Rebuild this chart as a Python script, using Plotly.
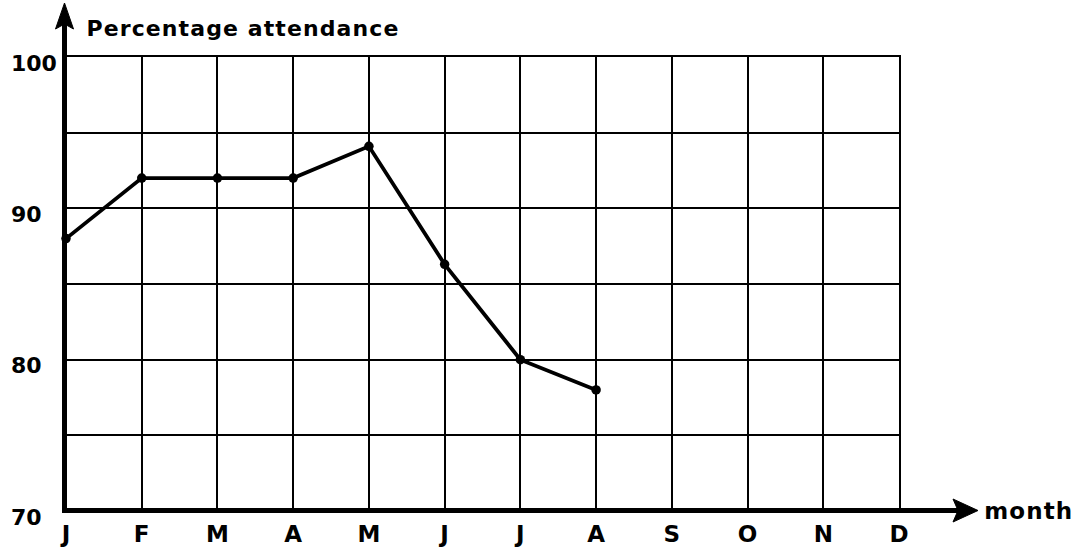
import plotly.graph_objects as go

# Monthly attendance (percent), January to August
months = ["J", "F", "M", "A", "M", "J", "J", "A", "S", "O", "N", "D"]
month_index = list(range(len(months)))
attendance = [88.0, 92.0, 92.0, 92.0, 94.1, 86.3, 80.0, 78.0]
y_ticks = [70, 80, 90, 100]

FONT = "DejaVu Sans, Liberation Sans, Arial, sans-serif"

# plot-area geometry in pixels, used to place the arrowed axes in paper units
W, H = 1081, 550
L, R, T, B = 66, 182, 57, 39
PW, PH = W - L - R, H - T - B


def px(x):
    return (x - L) / PW


def py(y):
    return (H - B - y) / PH


fig = go.Figure()
fig.add_trace(go.Scatter(
    x=month_index[:len(attendance)],
    y=attendance,
    mode="lines+markers",
    line=dict(color="black", width=3.8),
    marker=dict(color="black", size=9.5),
    cliponaxis=False,
    showlegend=False,
))

shapes = [
    # vertical axis with arrowhead
    dict(type="line", xref="paper", yref="paper", x0=px(64.5), x1=px(64.5),
         y0=py(513), y1=py(22), line=dict(color="black", width=5)),
    dict(type="path", xref="paper", yref="paper",
         path=f"M {px(64.5)},{py(3)} L {px(73.5)},{py(29)} L {px(64.5)},{py(24)} "
              f"L {px(55.5)},{py(29)} Z",
         fillcolor="black", line=dict(color="black", width=1)),
    # horizontal axis with arrowhead
    dict(type="line", xref="paper", yref="paper", x0=px(62), x1=px(962),
         y0=py(510.5), y1=py(510.5), line=dict(color="black", width=5)),
    dict(type="path", xref="paper", yref="paper",
         path=f"M {px(978)},{py(510.5)} L {px(953)},{py(499)} L {px(958)},{py(510.5)} "
              f"L {px(953)},{py(522)} Z",
         fillcolor="black", line=dict(color="black", width=1)),
]

annotations = [
    dict(text="Percentage attendance", xref="paper", yref="paper",
         x=px(243), y=py(28), xanchor="center", yanchor="middle", showarrow=False,
         font=dict(family=FONT, size=22, color="black", weight="bold")),
    dict(text="month", xref="paper", yref="paper",
         x=px(1029), y=py(511), xanchor="center", yanchor="middle", showarrow=False,
         font=dict(family=FONT, size=23, color="black", weight="bold")),
]
for v in y_ticks:
    annotations.append(dict(
        text=str(v), xref="paper", yref="y", x=px(9), y=v, yshift=-6,
        xanchor="left", yanchor="middle", showarrow=False,
        font=dict(family=FONT, size=22, color="black", weight="bold")))

fig.update_layout(
    width=W, height=H,
    margin=dict(l=L, r=R, t=T, b=B, pad=0),
    plot_bgcolor="white", paper_bgcolor="white",
    shapes=shapes, annotations=annotations,
    xaxis=dict(
        range=[0, 11], tickmode="array", tickvals=month_index, ticktext=months,
        showgrid=True, gridcolor="black", gridwidth=1.6,
        showline=True, mirror=True, linecolor="black", linewidth=1.6,
        zeroline=False, ticks="", automargin=False,
        ticklabelstandoff=2,
        tickfont=dict(family=FONT, size=23, color="black", weight="bold"),
    ),
    yaxis=dict(
        range=[70, 100], tickmode="linear", tick0=70, dtick=5,
        showgrid=True, gridcolor="black", gridwidth=1.6,
        showline=True, mirror=True, linecolor="black", linewidth=1.6,
        zeroline=False, ticks="", showticklabels=False, automargin=False,
    ),
)

# slightly wider tracking for the label text
post = (
    "var st=document.createElement('style');"
    "st.textContent='g.annotation[data-index=\"0\"] text, g.annotation[data-index=\"1\"] text"
    "{letter-spacing:1.1px}';"
    "document.head.appendChild(st);"
)
fig.write_html("out.html", post_script=post)
